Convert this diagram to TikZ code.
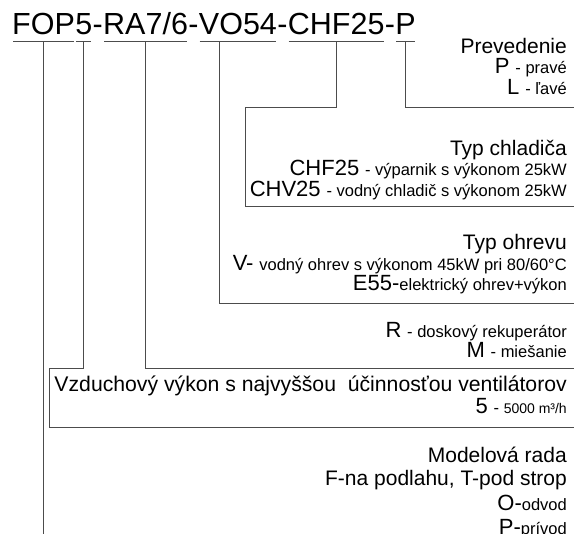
\documentclass[tikz,border=0pt]{standalone}
\usepackage{fontspec}
\setmainfont{Liberation Sans}
\usetikzlibrary{positioning}

\newcommand\kod[1]{{\fontsize{22}{22}\selectfont #1}}
\newcommand\popis[1]{{\fontsize{16.5}{16.5}\selectfont #1}}

\begin{document}
\begin{tikzpicture}[
    x=1pt, y=-1pt,
    code/.style={inner sep=0pt, anchor=base west, font=\fontsize{30.5}{30.5}\selectfont},
    info/.style={inner sep=0pt, anchor=base east, font=\fontsize{21}{21}\selectfont},
    link/.style={line width=1pt, draw=black!70},
]
\useasboundingbox (0,0) rectangle (574,534);
\clip (0,0) rectangle (574,534);

% Type code
\node[code] (fop) at (12,35) {FOP};
\node[code] (n5) at (fop.base east) {5};
\node[code] (s1) at (n5.base east) {-};
\node[code] (ra) at (s1.base east) {RA7/6};
\node[code] (s2) at (ra.base east) {-};
\node[code] (vo) at (s2.base east) {VO54};
\node[code] (s3) at (vo.base east) {-};
\node[code] (chf) at (s3.base east) {CHF25};
\node[code] (s4) at (chf.base east) {-};
\node[code] (pr) at (s4.base east) {P};

% Underlines
\foreach \part in {fop, n5, ra, vo, chf, pr}
    \draw[link] ([yshift=-7pt, xshift=1pt]\part.base west) -- ([yshift=-7pt, xshift=-1pt]\part.base east);

% Start points of the connectors
\coordinate (u-fop) at ([yshift=-7pt]fop.base);
\coordinate (u-n5) at ([yshift=-7pt]n5.base);
\coordinate (u-ra) at ([yshift=-7pt]ra.base);
\coordinate (u-vo) at ([yshift=-7pt, xshift=21pt]vo.base west);
\coordinate (u-chf) at ([yshift=-7pt]chf.base);
\coordinate (u-pr) at ([yshift=-7pt]pr.base);

% Free ends at the right edge
\coordinate (e-pr) at (574,108);
\coordinate (e-chf) at (574,207);
\coordinate (e-vo) at (574,304);
\coordinate (e-ra) at (574,369);
\coordinate (e-n5) at (574,428);
\coordinate (e-fop) at (u-fop |- 0,534);

% Descriptions
\node[info] (prev) at (567,54) {Prevedenie};
\node[info] (prevP) at (567,74) {\kod{P} \popis{- pravé}};
\node[info] (prevL) at (567,95) {\kod{L} \popis{- ľavé}};

\node[info] (chl) at (567,156) {Typ chladiča};
\node[info] (chlF) at (567,176) {\kod{CHF25} \popis{- výparnik s výkonom 25kW}};
\node[info] (chlV) at (567,197) {\kod{CHV25} \popis{- vodný chladič s výkonom 25kW}};

\node[info] (ohr) at (567,250) {Typ ohrevu};
\node[info] (ohrV) at (567,271) {\kod{V-} \popis{vodný ohrev s výkonom 45kW pri 80/60°C}};
\node[info] (ohrE) at (567,291) {\kod{E55-}\popis{elektrický ohrev+výkon}};

\node[info] (rekR) at (567,338) {\kod{R} \popis{- doskový rekuperátor}};
\node[info] (rekM) at (567,358) {\kod{M} \popis{- miešanie}};

\node[info, font=\fontsize{21.2}{21.2}\selectfont] (vzd) at (567,392) {Vzduchový výkon s najvyššou~ účinnosťou ventilátorov};
\node[info] (vzd5) at (567,414) {\kod{5} \popis{- {\fontsize{14}{14}\selectfont 5000 m³/h}}};

\node[info] (mod) at (567,463) {Modelová rada};
\node[info] (modFT) at (567,486) {F-na podlahu, T-pod strop};
\node[info] (modO) at (567,511) {\kod{O-}\popis{odvod}};
\node[info] (modP) at (567,535) {\kod{P-}\popis{prívod}};

% Connectors
\draw[link] (u-pr) |- (e-pr);
\draw[link] (u-chf) |- (245,108) |- (e-chf);
\draw[link] (u-vo) |- (e-vo);
\draw[link] (u-ra) |- (e-ra);
\draw[link] (u-n5) |- (49,369) |- (e-n5);
\draw[link] (u-fop) -- (e-fop);
\end{tikzpicture}
\end{document}
